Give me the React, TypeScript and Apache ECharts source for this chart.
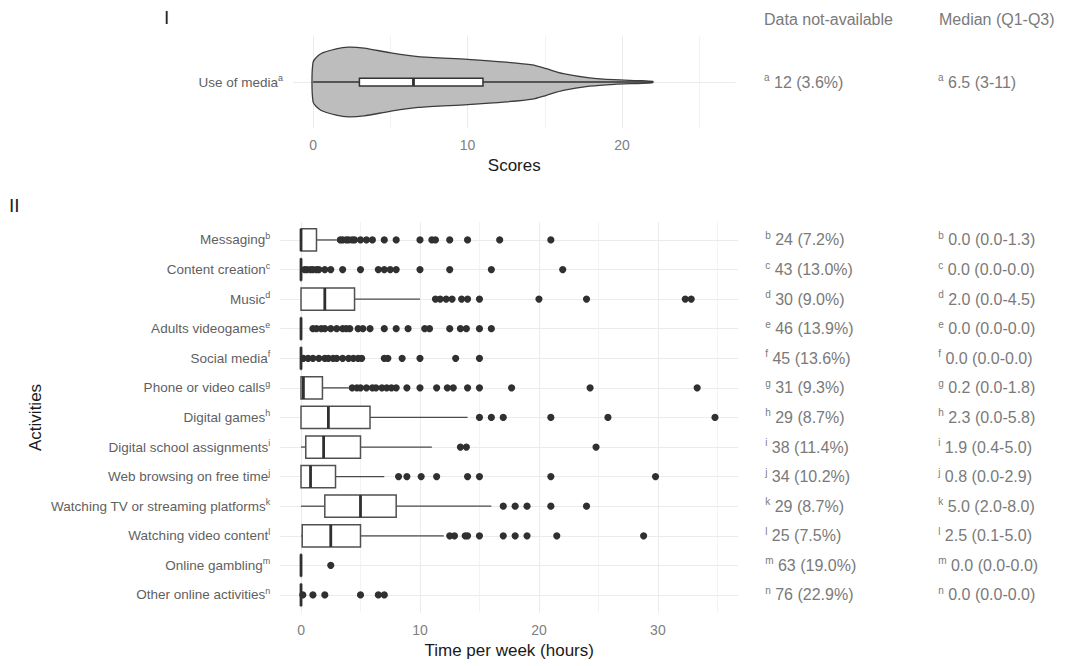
import React, { useEffect, useRef } from "react";
import * as echarts from "echarts";

// ---------- Panel I : use of media (scores) ----------
const mediaLabel = "Use of media";
const mediaSup = "a";
const mediaNA = "12 (3.6%)";
const mediaMedianIQR = "6.5 (3-11)";
// [whisker low, Q1, median, Q3, whisker high]
const mediaBox = [0, 3, 6.5, 11, 22];
// violin outline: score and relative density (max = 1)
const violinX = [0, 0.5, 1.5, 2.3, 3.3, 5, 6.8, 10, 12.5, 14.2, 15.1, 16.2, 17.9, 19.5, 21.3, 22];
const violinDensity = [0.57, 0.81, 0.95, 1.0, 0.97, 0.84, 0.73, 0.65, 0.57, 0.49, 0.38, 0.24, 0.12, 0.066, 0.037, 0.014];
const scoreTicks = [0, 10, 20];
const scoreMinorTicks = [5, 15, 25];

// ---------- Panel II : activities (hours per week) ----------
const categories = [
  "Messaging",
  "Content creation",
  "Music",
  "Adults videogames",
  "Social media",
  "Phone or video calls",
  "Digital games",
  "Digital school assignments",
  "Web browsing on free time",
  "Watching TV or streaming platforms",
  "Watching video content",
  "Online gambling",
  "Other online activities",
];
const superscripts = ["b", "c", "d", "e", "f", "g", "h", "i", "j", "k", "l", "m", "n"];
const notAvailable = [
  "24 (7.2%)", "43 (13.0%)", "30 (9.0%)", "46 (13.9%)", "45 (13.6%)", "31 (9.3%)", "29 (8.7%)",
  "38 (11.4%)", "34 (10.2%)", "29 (8.7%)", "25 (7.5%)", "63 (19.0%)", "76 (22.9%)",
];
const medianIQR = [
  "0.0 (0.0-1.3)", "0.0 (0.0-0.0)", "2.0 (0.0-4.5)", "0.0 (0.0-0.0)", "0.0 (0.0-0.0)", "0.2 (0.0-1.8)",
  "2.3 (0.0-5.8)", "1.9 (0.4-5.0)", "0.8 (0.0-2.9)", "5.0 (2.0-8.0)", "2.5 (0.1-5.0)", "0.0 (0.0-0.0)",
  "0.0 (0.0-0.0)",
];
const whiskerLow = [0, 0, 0, 0, 0, 0, 0, 0, 0, 0, 0, 0, 0];
const q1 = [0, 0, 0, 0, 0, 0, 0, 0.4, 0, 2.0, 0.1, 0, 0];
const median = [0, 0, 2.0, 0, 0, 0.2, 2.3, 1.9, 0.8, 5.0, 2.5, 0, 0];
const q3 = [1.3, 0, 4.5, 0, 0, 1.8, 5.8, 5.0, 2.9, 8.0, 5.0, 0, 0];
const whiskerHigh = [3.0, 0, 10, 0, 0, 4.0, 14, 11, 7, 16, 12, 0, 0];
const outliers = [
  [3.3, 3.5, 3.8, 4.0, 4.3, 4.5, 5.0, 5.5, 6.0, 7, 8, 10, 11, 11.3, 12.5, 14, 16.7, 21],
  [0.3, 0.5, 0.8, 1, 1.3, 1.5, 2, 2.5, 3.5, 5, 6.5, 7, 7.5, 8, 10, 12.5, 16, 22],
  [11.3, 11.7, 12.2, 12.7, 13.5, 14, 15, 20, 24, 32.3, 32.8],
  [1, 1.3, 1.7, 2, 2.5, 3, 3.5, 3.8, 4.1, 4.8, 5.2, 5.8, 7, 8, 9, 10.4, 10.8, 12.5, 13.4, 13.9, 15, 16],
  [0.2, 0.6, 1, 1.5, 2, 2.3, 2.7, 3, 3.5, 4, 4.4, 4.8, 5.1, 7, 7.3, 8.5, 10, 13, 15],
  [4.3, 4.7, 5, 5.5, 6, 6.3, 6.8, 7.2, 7.6, 8, 8.9, 10, 11.4, 12.3, 12.8, 14, 15, 17.7, 24.3, 33.3],
  [15, 16, 17, 21, 25.8, 34.8],
  [13.4, 13.9, 24.8],
  [8.2, 8.9, 10.1, 11.4, 14, 15, 21, 29.8],
  [17, 18, 19, 21, 24],
  [12.5, 12.9, 13.8, 14, 15, 17, 18, 19, 21.5, 28.8],
  [2.5],
  [0.15, 1, 2, 5, 6.5, 7],
];
const timeTicks = [0, 10, 20, 30];
const timeMinorTicks = [5, 15, 25, 35];

const FONT = "Liberation Sans, Arial, Helvetica, sans-serif";
const GRID = "#ebebeb";
const CAT_COLOR = "#5f5f5f";
const TICK_COLOR = "#808080";
const SIDE_COLOR = "#7a7a7a";

const catRich = {
  m: { fontSize: 13.5, color: CAT_COLOR, fontFamily: FONT, lineHeight: 17 },
  s: { fontSize: 9, color: CAT_COLOR, fontFamily: FONT, verticalAlign: "top" as const, lineHeight: 17 },
};
const sideRich = {
  m: { fontSize: 16, color: SIDE_COLOR, fontFamily: FONT, lineHeight: 19 },
  s: { fontSize: 10, color: SIDE_COLOR, fontFamily: FONT, verticalAlign: "top" as const, lineHeight: 19 },
};

function boxRenderer(halfWidth: number, boxStroke: string, whiskerStroke: string) {
  return (params: any, api: any) => {
    const y = api.value(0);
    const lo = api.value(1);
    const a = api.value(2);
    const m = api.value(3);
    const b = api.value(4);
    const hi = api.value(5);
    const half = Math.abs(api.size([0, halfWidth])[1]);
    const pLo = api.coord([lo, y]);
    const pA = api.coord([a, y]);
    const pM = api.coord([m, y]);
    const pB = api.coord([b, y]);
    const pHi = api.coord([hi, y]);
    return {
      type: "group",
      children: [
        { type: "line", shape: { x1: pLo[0], y1: pLo[1], x2: pA[0], y2: pA[1] }, style: { stroke: whiskerStroke, lineWidth: 1.3 } },
        { type: "line", shape: { x1: pB[0], y1: pB[1], x2: pHi[0], y2: pHi[1] }, style: { stroke: whiskerStroke, lineWidth: 1.3 } },
        {
          type: "rect",
          shape: { x: pA[0], y: pA[1] - half, width: Math.max(pB[0] - pA[0], 0.01), height: 2 * half },
          style: { fill: "#ffffff", stroke: boxStroke, lineWidth: 1.5 },
        },
        { type: "line", shape: { x1: pM[0], y1: pM[1] - half, x2: pM[0], y2: pM[1] + half }, style: { stroke: "#2f2f2f", lineWidth: 2.8 } },
      ],
    };
  };
}

export default function App() {
  const ref = useRef<HTMLDivElement>(null);
  useEffect(() => {
    if (!ref.current) return;
    const chart = echarts.init(ref.current, null, { renderer: "svg" });
    const catTicks = categories.map((_, i) => i + 1);
    const outlierData: number[][] = [];
    outliers.forEach((list, i) => list.forEach((v) => outlierData.push([v, i + 1])));

    const option: any = {
      animation: false,
      textStyle: { fontFamily: FONT },
      grid: [
        { left: 293, top: 35.5, width: 442.5, height: 93 },
        { left: 280.2, top: 222.2, width: 458, height: 390.5 },
      ],
      xAxis: [
        {
          gridIndex: 0, type: "value", min: -1.3, max: 27.35,
          axisLine: { show: false },
          axisTick: { show: false, customValues: scoreTicks },
          axisLabel: { customValues: scoreTicks, color: TICK_COLOR, fontSize: 14, margin: 9 },
          splitLine: { show: true, lineStyle: { color: GRID, width: 1 } },
          name: "Scores", nameLocation: "middle", nameGap: 28,
          nameTextStyle: { color: "#1a1a1a", fontSize: 17, fontFamily: FONT },
        },
        {
          gridIndex: 0, type: "value", min: -1.3, max: 27.35, position: "bottom",
          axisLine: { show: false },
          axisTick: { show: false, customValues: scoreMinorTicks },
          axisLabel: { show: false, customValues: scoreMinorTicks },
          splitLine: { show: true, lineStyle: { color: "#f0f0f0", width: 0.8 } },
        },
        {
          gridIndex: 1, type: "value", min: -1.75, max: 36.75,
          axisLine: { show: false },
          axisTick: { show: false, customValues: timeTicks },
          axisLabel: { customValues: timeTicks, color: TICK_COLOR, fontSize: 14, margin: 10 },
          splitLine: { show: true, lineStyle: { color: GRID, width: 1 } },
          name: "Time per week (hours)", nameLocation: "middle", nameGap: 28,
          nameTextStyle: { color: "#1a1a1a", fontSize: 17, fontFamily: FONT },
        },
        {
          gridIndex: 1, type: "value", min: -1.75, max: 36.75, position: "bottom",
          axisLine: { show: false },
          axisTick: { show: false, customValues: timeMinorTicks },
          axisLabel: { show: false, customValues: timeMinorTicks },
          splitLine: { show: true, lineStyle: { color: "#f0f0f0", width: 0.8 } },
        },
      ],
      yAxis: [
        {
          gridIndex: 0, type: "value", min: 0.4, max: 1.6,
          axisLine: { show: false },
          axisTick: { show: false, customValues: [1] },
          axisLabel: { customValues: [1], margin: 10, formatter: () => `{m|${mediaLabel}}{s|${mediaSup}}`, rich: catRich },
          splitLine: { show: true, lineStyle: { color: GRID, width: 1 } },
        },
        {
          gridIndex: 0, type: "value", min: 0.4, max: 1.6, position: "right",
          axisLine: { show: false },
          axisTick: { show: false, customValues: [1] },
          axisLabel: { customValues: [1], margin: 28.5, formatter: () => `{s|${mediaSup}}{m| ${mediaNA}}`, rich: sideRich },
          splitLine: { show: false },
        },
        {
          gridIndex: 0, type: "value", min: 0.4, max: 1.6, position: "right", offset: 174,
          axisLine: { show: false },
          axisTick: { show: false, customValues: [1] },
          axisLabel: { customValues: [1], margin: 28.5, formatter: () => `{s|${mediaSup}}{m| ${mediaMedianIQR}}`, rich: sideRich },
          splitLine: { show: false },
        },
        {
          gridIndex: 1, type: "value", min: 0.4, max: 13.6, inverse: true,
          axisLine: { show: false },
          axisTick: { show: false, customValues: catTicks },
          axisLabel: {
            customValues: catTicks, margin: 10,
            formatter: (v: number) => `{m|${categories[Math.round(v) - 1]}}{s|${superscripts[Math.round(v) - 1]}}`,
            rich: catRich,
          },
          splitLine: { show: true, lineStyle: { color: GRID, width: 1 } },
          name: "Activities", nameLocation: "middle", nameGap: 236, nameRotate: 90,
          nameTextStyle: { color: "#1a1a1a", fontSize: 17, fontFamily: FONT },
        },
        {
          gridIndex: 1, type: "value", min: 0.4, max: 13.6, inverse: true, position: "right",
          axisLine: { show: false },
          axisTick: { show: false, customValues: catTicks },
          axisLabel: {
            customValues: catTicks, margin: 27,
            formatter: (v: number) => `{s|${superscripts[Math.round(v) - 1]}}{m| ${notAvailable[Math.round(v) - 1]}}`,
            rich: sideRich,
          },
          splitLine: { show: false },
        },
        {
          gridIndex: 1, type: "value", min: 0.4, max: 13.6, inverse: true, position: "right", offset: 173,
          axisLine: { show: false },
          axisTick: { show: false, customValues: catTicks },
          axisLabel: {
            customValues: catTicks, margin: 27,
            formatter: (v: number) => `{s|${superscripts[Math.round(v) - 1]}}{m| ${medianIQR[Math.round(v) - 1]}}`,
            rich: sideRich,
          },
          splitLine: { show: false },
        },
      ],
      series: [
        {
          type: "custom", name: "violin", xAxisIndex: 0, yAxisIndex: 0,
          data: [[1]],
          encode: { y: 0 },
          renderItem: (params: any, api: any) => {
            const yc = api.value(0);
            const top = violinX.map((x, i) => api.coord([x, yc + 0.45 * violinDensity[i]]));
            const bottom = violinX.map((x, i) => api.coord([x, yc - 0.45 * violinDensity[i]])).reverse();
            return {
              type: "polygon",
              shape: { points: top.concat(bottom), smooth: 0.25 },
              style: { fill: "#bdbdbd", stroke: "#3c3c3c", lineWidth: 1.3 },
            };
          },
        },
        {
          type: "custom", name: "mediaBox", xAxisIndex: 0, yAxisIndex: 0,
          data: [[1, ...mediaBox]],
          encode: { y: 0, x: [1, 2, 3, 4, 5] },
          renderItem: boxRenderer(0.05, "#333333", "#333333"),
        },
        {
          type: "custom", name: "boxes", xAxisIndex: 2, yAxisIndex: 3,
          data: categories.map((_, i) => [i + 1, whiskerLow[i], q1[i], median[i], q3[i], whiskerHigh[i]]),
          encode: { y: 0, x: [1, 2, 3, 4, 5] },
          renderItem: boxRenderer(0.375, "#505050", "#4a4a4a"),
        },
        {
          type: "scatter", name: "outliers", xAxisIndex: 2, yAxisIndex: 3,
          data: outlierData, symbolSize: 7.2,
          itemStyle: { color: "#303030", opacity: 1 },
          z: 5,
        },
      ],
      graphic: [
        { type: "text", left: 164, top: 8, style: { text: "I", fontSize: 19, fill: "#222", fontFamily: FONT } },
        { type: "text", left: 9, top: 196, style: { text: "II", fontSize: 19, fill: "#222", fontFamily: FONT } },
        { type: "text", left: 764, top: 11, style: { text: "Data not-available", fontSize: 16, fill: SIDE_COLOR, fontFamily: FONT } },
        { type: "text", left: 939, top: 11, style: { text: "Median (Q1-Q3)", fontSize: 16, fill: SIDE_COLOR, fontFamily: FONT } },
      ],
    };
    chart.setOption(option);
    return () => chart.dispose();
  }, []);
  return <div ref={ref} style={{ position: "fixed", left: 0, top: 0, width: 1068, height: 666, background: "#fff" }} />;
}
